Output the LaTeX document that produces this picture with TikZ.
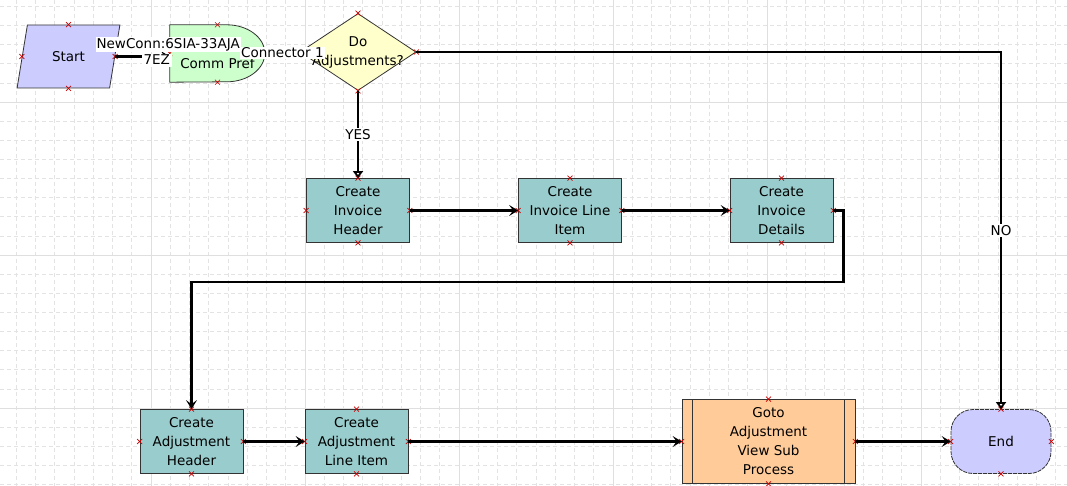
\documentclass[tikz,border=0pt]{standalone}
\usepackage{fontspec}
\setmainfont{DejaVu Sans}
\usetikzlibrary{arrows.meta,shapes.geometric,shapes.misc,backgrounds}

\definecolor{startfill}{HTML}{CCCCFF}
\definecolor{preffill}{HTML}{CCFFCC}
\definecolor{decfill}{HTML}{FFFFCC}
\definecolor{taskfill}{HTML}{99CCCC}
\definecolor{subfill}{HTML}{FFCC99}

\begin{document}
\begin{tikzpicture}[x=1pt, y=-1pt,
    font=\fontsize{13.5}{19}\selectfont,
    box/.style={draw=black!80, line width=0.8pt, align=center, inner sep=0pt},
    task/.style={box, fill=taskfill, minimum width=103pt, minimum height=64pt},
    startbox/.style={box, trapezium, trapezium left angle=68, trapezium right angle=112,
        trapezium stretches=true, fill=startfill, minimum width=103pt, minimum height=63pt},
    endbox/.style={box, rounded corners=22pt, fill=startfill, dash pattern=on 4pt off 1pt,
        minimum width=100pt, minimum height=64pt},
    decision/.style={box, diamond, fill=decfill, minimum width=116pt, minimum height=77pt},
    subproc/.style={box, fill=subfill, minimum width=173pt, minimum height=84pt},
    conn/.style={line width=2.4pt, -{Stealth[length=9pt,width=11pt,inset=4pt]}},
    yesno/.style={line width=2.4pt, -{Triangle[open,length=7pt,width=10pt]}},
    clabel/.style={fill=white, inner sep=1pt},
    xmark/.style={red!80!black, line width=0.6pt},
    minorgrid/.style={gray!22, line width=0.6pt, dash pattern=on 4pt off 3pt},
    majorgrid/.style={gray!25, line width=0.9pt}
]
\useasboundingbox (0,0) rectangle (1067,486);

% background grid
\begin{scope}[on background layer]
\fill[white] (0,0) rectangle (1067,486);
\foreach \gx in {0,...,56} \draw[minorgrid] ({-3+19.25*\gx},0) -- ({-3+19.25*\gx},486);
\foreach \gy in {-5,...,20} \draw[minorgrid] (0,{102+19.125*\gy}) -- (1067,{102+19.125*\gy});
\foreach \gx in {0,...,7} \draw[majorgrid] ({-3+154*\gx},0) -- ({-3+154*\gx},486);
\foreach \gy in {0,...,3} \draw[majorgrid] (0,{102+153*\gy}) -- (1067,{102+153*\gy});
\end{scope}

% shapes
\node[startbox] (start) at (68.5,56.5) {Start};
\node[minimum width=95pt, minimum height=57pt, inner sep=0pt,
      label={[yshift=-9.5pt]center:Comm Pref}] (pref) at (217.5,53.5) {};
\node[decision, label={[align=center]center:Do\\Adjustments?}] (dia) at (358,52) {};

\node[task] (inhead) at (358,210.5) {Create\\Invoice\\Header};
\node[task] (initem) at (570,210.5) {Create\\Invoice Line\\Item};
\node[task] (indet) at (781.5,210.5) {Create\\Invoice\\Details};

\node[task] (adhead) at (191.5,441.5) {Create\\Adjustment\\Header};
\node[task] (aditem) at (356.5,441.5) {Create\\Adjustment\\Line Item};
\node[subproc] (goto) at (768.5,441.5) {Goto\\Adjustment\\View Sub\\Process};
\node[endbox] (end) at (1001,441.5) {End};

\begin{scope}[on background layer]
\draw[box, fill=preffill] (pref.north west) -- ++(57,0)
    arc[start angle=90, end angle=-90, x radius=38pt, y radius=28.5pt] -- (pref.south west) -- cycle;
\end{scope}
\draw[draw=black!80, line width=0.8pt] ([xshift=11pt]goto.north west) -- ([xshift=11pt]goto.south west)
    ([xshift=-11pt]goto.north east) -- ([xshift=-11pt]goto.south east);

% connection points
\foreach \n in {start,pref,dia,inhead,initem,indet,adhead,aditem,goto,end}
  \foreach \a in {north,south,east,west}
    \draw[xmark] (\n.\a) +(-2.5,-2.5) -- +(2.5,2.5) +(-2.5,2.5) -- +(2.5,-2.5);

% connectors
\draw[conn] (start.east) -- (start.east -| pref.west)
    node[clabel, pos=0.97, yshift=12pt] {NewConn:6SIA-33AJA}
    node[clabel, pos=0.76, yshift=-4pt, text depth=2pt, minimum width=30pt] {7EZ};
\draw[conn] (pref.east) -- (dia.west) node[clabel, midway] {Connector 1};
\draw[yesno] (dia.south) -- (inhead.north) node[clabel, midway] {YES};
\draw[yesno] (dia.east) -| (end.north) node[clabel, pos=0.75] {NO};
\draw[conn] (inhead.east) -- (initem.west);
\draw[conn] (initem.east) -- (indet.west);
\draw[conn] (indet.east) -| ++(10,71.5) -| (adhead.north);
\draw[conn] (adhead.east) -- (aditem.west);
\draw[conn] (aditem.east) -- (goto.west);
\draw[conn] (goto.east) -- (end.west);
\end{tikzpicture}
\end{document}
